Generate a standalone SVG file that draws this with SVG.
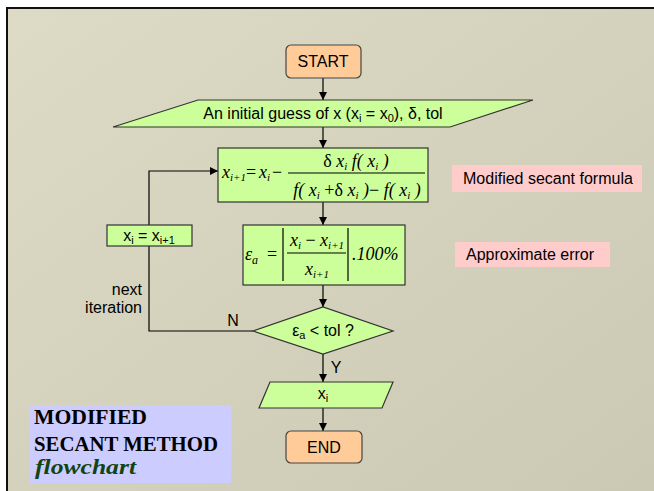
<svg xmlns="http://www.w3.org/2000/svg" width="654" height="491" viewBox="0 0 654 491">
<defs>
<linearGradient id="bg" x1="0" y1="0" x2="1" y2="1">
<stop offset="0" stop-color="#dddbc6"/>
<stop offset="1" stop-color="#cbc9b3"/>
</linearGradient>
<marker id="arr" viewBox="0 0 10 10" refX="10" refY="5" markerWidth="8" markerHeight="8" markerUnits="userSpaceOnUse" orient="auto">
<path d="M0,0 L10,5 L0,10 z" fill="#000"/>
</marker>
<style>
.term{fill:#ffcc99;stroke:#444;stroke-width:1.2}
.proc{fill:#ccff99;stroke:#333;stroke-width:1.2}
.note{fill:#ffcccc}
.lbl{font-family:"Liberation Sans",Arial,sans-serif;font-size:16px;fill:#000}
.math{font-family:"Liberation Serif","Times New Roman",serif;font-style:italic;font-size:18px;fill:#000}
.up{font-style:normal}
.edge{fill:none;stroke:#000;stroke-width:1.2}
.title{font-family:"Liberation Serif","Times New Roman",serif;font-weight:bold;font-size:20px;fill:#000}
</style>
</defs>
<rect x="0" y="0" width="654" height="491" fill="#ffffff"/>
<rect x="7" y="8" width="647" height="483" fill="url(#bg)"/>
<path d="M7,491 L7,8 L654,8" fill="none" stroke="#111" stroke-width="2"/>

<g id="connectors">
<path class="edge" d="M323,78 L323,100" marker-end="url(#arr)"/>
<path class="edge" d="M323,127 L323,148" marker-end="url(#arr)"/>
<path class="edge" d="M323,202 L323,225" marker-end="url(#arr)"/>
<path class="edge" d="M323,285 L323,307" marker-end="url(#arr)"/>
<path class="edge" d="M323,354 L323,382" marker-end="url(#arr)"/>
<path class="edge" d="M323,408 L323,431" marker-end="url(#arr)"/>
<path class="edge" d="M253,331 L149,331 L149,246"/>
<path class="edge" d="M149,225 L149,171 L218,171" marker-end="url(#arr)"/>
<text class="lbl" x="233" y="326" text-anchor="middle">N</text>
<text class="lbl" x="336" y="373" text-anchor="middle">Y</text>
<text class="lbl" x="142" y="295" text-anchor="end">next</text>
<text class="lbl" x="142" y="313" text-anchor="end">iteration</text>
</g>

<g id="start">
<rect class="term" x="286" y="45" width="75" height="33" rx="5"/>
<text class="lbl" x="323" y="67" text-anchor="middle">START</text>
</g>

<g id="input">
<polygon class="proc" points="198,100 533,100 450,127 113,127"/>
<text class="lbl" x="323" y="119" text-anchor="middle">An initial guess of x (x<tspan font-size="11" dy="3">i</tspan><tspan dy="-3"> = x</tspan><tspan font-size="11" dy="3">0</tspan><tspan dy="-3">), δ, tol</tspan></text>
</g>

<g id="formula">
<rect class="proc" x="218" y="148" width="210" height="54"/>
<text class="math" x="222" y="178">x<tspan font-size="11" dy="3">i+1</tspan></text>
<text class="math up" x="246" y="178">=</text>
<text class="math" x="259" y="178">x<tspan font-size="11" dy="3">i</tspan></text>
<text class="math up" x="272" y="178">−</text>
<line x1="288" y1="173" x2="425" y2="173" stroke="#000" stroke-width="1"/>
<text class="math" x="356" y="167" text-anchor="middle"><tspan class="up">δ</tspan> x<tspan font-size="11" dy="3">i</tspan><tspan dy="-3"> f( x</tspan><tspan font-size="11" dy="3">i</tspan><tspan dy="-3"> )</tspan></text>
<text class="math" x="357" y="196" text-anchor="middle">f( x<tspan font-size="11" dy="3">i</tspan><tspan dy="-3" class="up"> +</tspan><tspan class="up">δ</tspan><tspan> x</tspan><tspan font-size="11" dy="3">i</tspan><tspan dy="-3"> )</tspan><tspan class="up">−</tspan><tspan> f( x</tspan><tspan font-size="11" dy="3">i</tspan><tspan dy="-3"> )</tspan></text>
</g>

<g id="note-formula">
<rect class="note" x="452" y="165" width="190" height="27"/>
<text class="lbl" x="463" y="184">Modified secant formula</text>
</g>

<g id="update">
<rect class="proc" x="107" y="225" width="85" height="21"/>
<text class="lbl" x="149" y="241" text-anchor="middle">x<tspan font-size="11" dy="3">i</tspan><tspan dy="-3"> = x</tspan><tspan font-size="11" dy="3">i+1</tspan></text>
</g>

<g id="error">
<rect class="proc" x="243" y="225" width="162" height="60"/>
<text class="math" x="245" y="260" font-size="23">ε<tspan font-size="12" dy="4">a</tspan></text>
<text class="math up" x="267" y="260" font-size="20">=</text>
<line x1="283" y1="228" x2="283" y2="281" stroke="#000" stroke-width="1.2"/>
<line x1="348" y1="228" x2="348" y2="281" stroke="#000" stroke-width="1.2"/>
<line x1="287" y1="253" x2="346" y2="253" stroke="#000" stroke-width="1"/>
<text class="math" x="317" y="246" text-anchor="middle">x<tspan font-size="11" dy="3">i</tspan><tspan dy="-3" class="up"> − </tspan><tspan>x</tspan><tspan font-size="11" dy="3">i+1</tspan></text>
<text class="math" x="317" y="275" text-anchor="middle">x<tspan font-size="11" dy="3">i+1</tspan></text>
<text class="math" x="352" y="260" font-size="20">.100%</text>
</g>

<g id="note-error">
<rect class="note" x="455" y="242" width="155" height="25"/>
<text class="lbl" x="466" y="260">Approximate error</text>
</g>

<g id="decision">
<polygon class="proc" points="253,331 323,307 393,331 323,354"/>
<text class="lbl" x="323" y="336" text-anchor="middle">ε<tspan font-size="11" dy="3">a</tspan><tspan dy="-3"> &lt; tol ?</tspan></text>
</g>

<g id="output">
<polygon class="proc" points="270,382 393,382 382,408 259,408"/>
<text class="lbl" x="323" y="399" text-anchor="middle">x<tspan font-size="11" dy="3">i</tspan></text>
</g>

<g id="end">
<rect class="term" x="286" y="431" width="76" height="32" rx="5"/>
<text class="lbl" x="324" y="453" text-anchor="middle">END</text>
</g>

<g id="title">
<rect x="30" y="405" width="201" height="78" fill="#ccccff"/>
<text class="title" x="34" y="424" textLength="113" lengthAdjust="spacingAndGlyphs">MODIFIED</text>
<text class="title" x="34" y="451" textLength="184" lengthAdjust="spacingAndGlyphs">SECANT METHOD</text>
<text class="title" x="35" y="474" font-style="italic" style="fill:#114411" textLength="101" lengthAdjust="spacingAndGlyphs">flowchart</text>
</g>
</svg>
